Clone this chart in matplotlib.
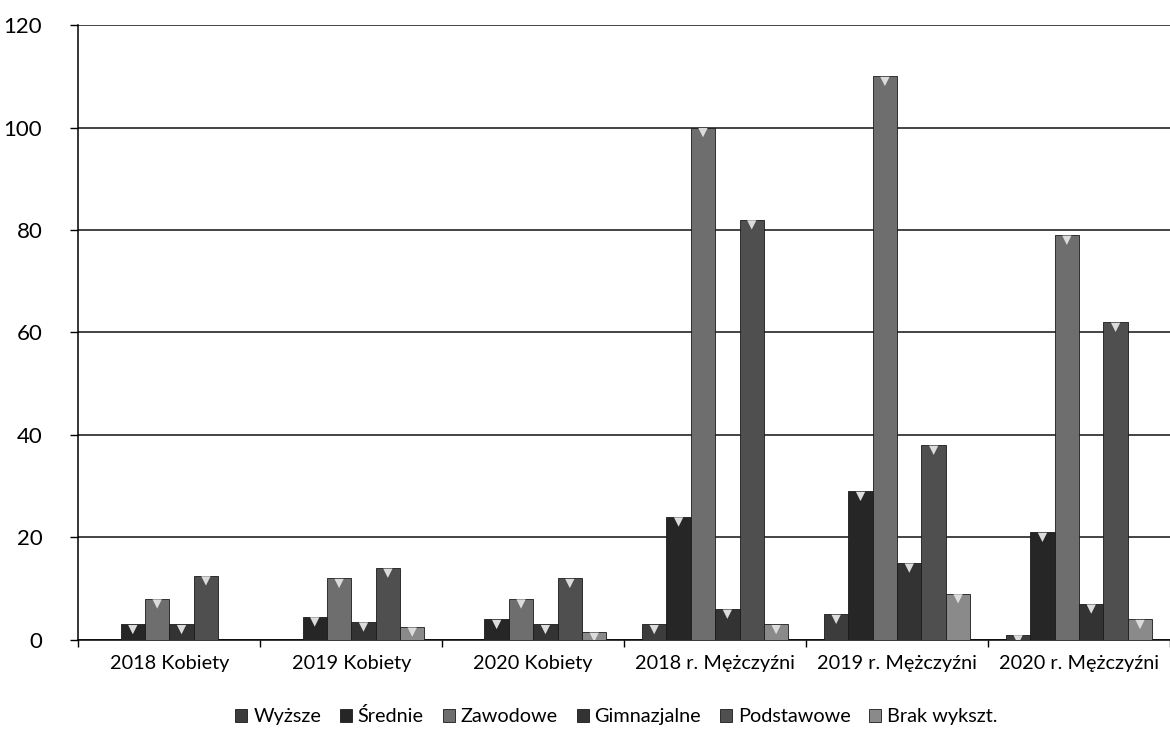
import matplotlib
matplotlib.use("Agg")
import matplotlib.pyplot as plt
import numpy as np

categories = ["2018 Kobiety", "2019 Kobiety", "2020 Kobiety",
              "2018 r. Mężczyźni", "2019 r. Mężczyźni", "2020 r. Mężczyźni"]
series_names = ["Wyższe", "Średnie", "Zawodowe", "Gimnazjalne", "Podstawowe", "Brak wykszt."]

wyzsze      = [0, 0, 0, 3, 5, 1]
srednie     = [3, 4.5, 4, 24, 29, 21]
zawodowe    = [8, 12, 8, 100, 110, 79]
gimnazjalne = [3, 3.5, 3, 6, 15, 7]
podstawowe  = [12.5, 14, 12, 82, 38, 62]
brak        = [0, 2.5, 1.5, 3, 9, 4]

series = [wyzsze, srednie, zawodowe, gimnazjalne, podstawowe, brak]
colors = ["#3c3c3c", "#262626", "#6e6e6e", "#333333", "#4f4f4f", "#8a8a8a"]
yticks = [0, 20, 40, 60, 80, 100, 120]

plt.rcParams["font.family"] = ["Lato", "DejaVu Sans"]

fig = plt.figure(figsize=(11.7, 7.38), dpi=100)
ax = fig.add_axes([0.067, 0.133, 0.933, 0.833])

x = np.arange(len(categories))
bw = 0.134
n = len(series)
for i, (vals, c, name) in enumerate(zip(series, colors, series_names)):
    pos = x + (i - (n - 1) / 2) * bw
    vals = np.array(vals, dtype=float)
    ax.bar(pos, vals, width=bw, color=c, edgecolor="#1a1a1a", linewidth=0.6,
           label=name, zorder=3)
    mask = vals > 0
    ax.scatter(pos[mask], vals[mask] - 1.0, marker="v", s=45, color="#dcdcdc",
               edgecolors="none", zorder=4)

ax.set_xlim(-0.5, len(categories) - 0.5)
ax.set_ylim(0, 120)
ax.set_yticks(yticks)
ax.set_yticklabels([str(t) for t in yticks], fontsize=16)
ax.tick_params(axis="y", length=6, width=1, pad=20, direction="out")
ax.set_xticks(x)
ax.set_xticklabels(categories, fontsize=14.3)
ax.tick_params(axis="x", length=0, pad=11)
ax.set_xticks(np.arange(len(categories) + 1) - 0.5, minor=True)
ax.tick_params(axis="x", which="minor", length=5, width=1, direction="out")

ax.yaxis.grid(True, color="#111111", linewidth=1.1, zorder=0)
ax.set_axisbelow(True)
for s in ["top", "right"]:
    ax.spines[s].set_visible(False)
ax.spines["left"].set_linewidth(1.1)
ax.spines["bottom"].set_linewidth(1.1)

handles = [plt.Rectangle((0, 0), 1, 1, facecolor=c, edgecolor="#1a1a1a", linewidth=0.6)
           for c in colors]
fig.legend(handles, series_names, loc="lower center", bbox_to_anchor=(0.527, -0.007),
           ncol=6, frameon=False, fontsize=14.3, handlelength=0.6, handleheight=0.6,
           handletextpad=0.3, columnspacing=0.95)

fig.savefig("out.png", dpi=100)
